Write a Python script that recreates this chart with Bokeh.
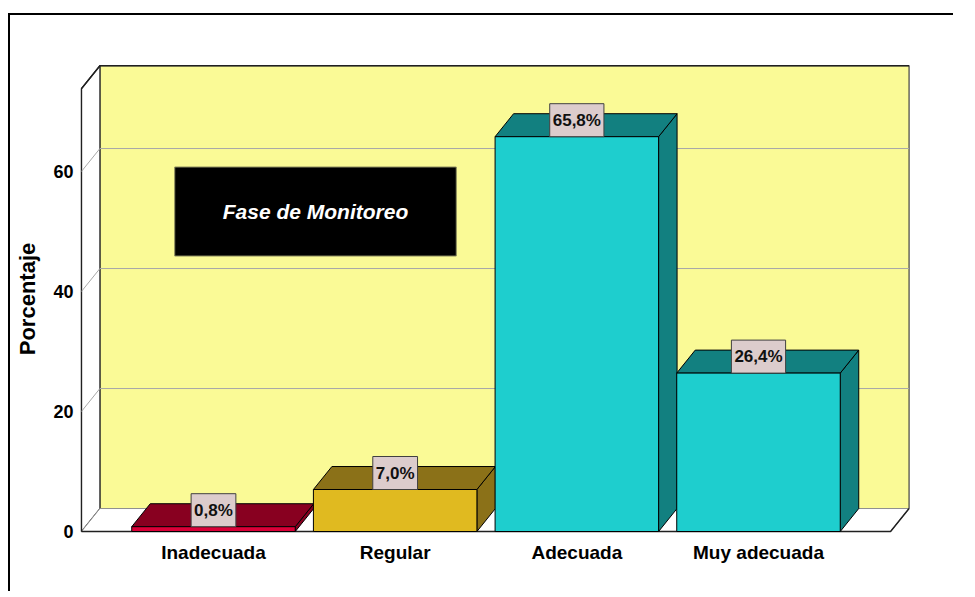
from bokeh.plotting import figure
from bokeh.models import FixedTicker, Label
from bokeh.embed import file_html
from bokeh.resources import INLINE

# ---- data ----
categories = ["Inadecuada", "Regular", "Adecuada", "Muy adecuada"]
values = [0.8, 7.0, 65.8, 26.4]
value_labels = ["0,8%", "7,0%", "65,8%", "26,4%"]
y_ticks = [0, 20, 40, 60]
y_label = "Porcentaje"
panel_title = "Fase de Monitoreo"

# ---- styles ----
front_colors = ["#DC0038", "#E0BA20", "#1ECECE", "#1ECECE"]
dark_colors = ["#880020", "#8B7118", "#128080", "#128080"]
wall_color = "#FAFA96"
grid_color = "#A8A8A8"
FONT = "Liberation Sans"

# geometry in data units
bar_w = 0.9
dx = 0.1018          # depth offset (x)
dy = 3.83            # depth offset (y)
x0, x1 = -0.727, 3.727
ytop = 73.8

p = figure(width=945, height=578, x_range=(-0.7321, 3.8367), y_range=(-0.333, 77.833),
           output_backend="svg", toolbar_location=None, title=None,
           min_border_left=70, min_border_top=49, min_border_bottom=60, min_border_right=45)
p.styles = {"border-top": "2px solid black", "border-left": "2px solid black",
            "margin-top": "13px", "margin-left": "8px"}
p.outline_line_color = None
p.background_fill_color = "white"
p.border_fill_color = "white"
p.xgrid.visible = False
p.ygrid.visible = False

# back wall
p.patch([x0 + dx, x1 + dx, x1 + dx, x0 + dx], [dy, dy, ytop + dy, ytop + dy],
        fill_color=wall_color, line_color="#404040", line_width=1.2)
# left side wall
p.patch([x0, x0 + dx, x0 + dx, x0], [0, dy, ytop + dy, ytop],
        fill_color="white", line_color="#202020", line_width=1.2)
# floor
p.patch([x0, x1, x1 + dx, x0 + dx], [0, 0, dy, dy],
        fill_color="white", line_color="#909090", line_width=1)
p.line([x0, x1, x1 + dx], [0, 0, dy], line_color="#202020", line_width=1.5)
p.line([x0, x0, x0 + dx, x1 + dx], [0, ytop, ytop + dy, ytop + dy], line_color="#202020", line_width=1.5)

# gridlines (diagonal on side wall + horizontal on back wall)
gx, gy = [], []
for t in y_ticks[1:]:
    gx.append([x0, x0 + dx, x1 + dx])
    gy.append([t, t + dy, t + dy])
p.multi_line(gx, gy, line_color=grid_color, line_width=1)

# title box
p.add_layout(Label(x=0.5615, y=53.33, text=panel_title, text_align="center", text_baseline="middle",
                   text_color="white", text_font=FONT, text_font_style="bold italic",
                   text_font_size="21px", background_fill_color="black",
                   border_line_color="#8A8A60", border_line_width=1,
                   padding=dict(left=48, right=48, top=33, bottom=33)))

# bars
for i, v in enumerate(values):
    xl, xr = i - bar_w / 2, i + bar_w / 2
    p.patch([xr, xr + dx, xr + dx, xr], [0, dy, v + dy, v],
            fill_color=dark_colors[i], line_color="black", line_width=1)
    p.patch([xl, xr, xr + dx, xl + dx], [v, v, v + dy, v + dy],
            fill_color=dark_colors[i], line_color="black", line_width=1)
    p.quad(left=[xl], right=[xr], bottom=[0], top=[v],
           fill_color=front_colors[i], line_color="black", line_width=1)

for i, v in enumerate(values):
    p.add_layout(Label(x=i, y=v, text=value_labels[i], text_align="center", text_baseline="bottom",
                       text_color="#111111", text_font=FONT, text_font_style="bold",
                       text_font_size="17px", background_fill_color="#DCCCCC",
                       border_line_color="#404040", border_line_width=1,
                       padding=dict(left=3, right=3, top=7, bottom=7)))

# axes
p.yaxis.ticker = FixedTicker(ticks=y_ticks)
p.yaxis.axis_line_color = None
p.yaxis.major_tick_line_color = None
p.yaxis.minor_tick_line_color = None
p.yaxis.major_tick_out = 0
p.yaxis.major_tick_in = 0
p.yaxis.major_label_standoff = 7
p.yaxis.major_label_text_font = FONT
p.yaxis.major_label_text_font_style = "bold"
p.yaxis.major_label_text_font_size = "18px"
p.yaxis.major_label_text_color = "black"
p.yaxis.axis_label = y_label
p.yaxis.axis_label_text_font = FONT
p.yaxis.axis_label_text_font_style = "bold"
p.yaxis.axis_label_text_font_size = "22px"
p.yaxis.axis_label_text_color = "black"
p.yaxis.axis_label_standoff = 10

p.xaxis.ticker = FixedTicker(ticks=list(range(len(categories))))
p.xaxis.major_label_overrides = {i: c for i, c in enumerate(categories)}
p.xaxis.axis_line_color = None
p.xaxis.major_tick_line_color = None
p.xaxis.minor_tick_line_color = None
p.xaxis.major_tick_out = 0
p.xaxis.major_tick_in = 0
p.xaxis.major_label_standoff = 8
p.xaxis.major_label_text_font = FONT
p.xaxis.major_label_text_font_style = "bold"
p.xaxis.major_label_text_font_size = "19px"
p.xaxis.major_label_text_color = "black"

open("out.html", "w").write(file_html(p, INLINE))
